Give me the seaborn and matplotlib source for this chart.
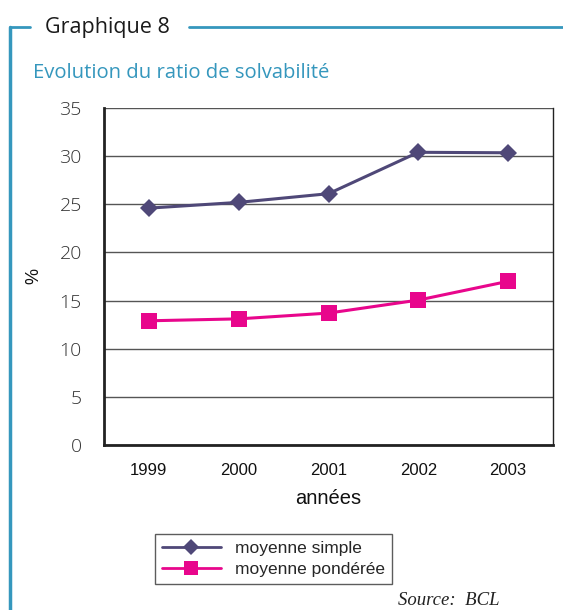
import matplotlib
matplotlib.use("Agg")
import matplotlib.pyplot as plt
import seaborn as sns
import pandas as pd
from matplotlib.lines import Line2D

years = ["1999", "2000", "2001", "2002", "2003"]
moyenne_simple = [24.6, 25.2, 26.1, 30.4, 30.35]
moyenne_ponderee = [12.9, 13.1, 13.7, 15.05, 17.0]
series_names = ["moyenne simple", "moyenne pondérée"]
y_ticks = [0, 5, 10, 15, 20, 25, 30, 35]

sns.set_style("white")
plt.rcParams['font.family'] = ['Liberation Sans', 'DejaVu Sans']

df = pd.DataFrame({
    "x": list(range(len(years))) * 2,
    "val": moyenne_simple + moyenne_ponderee,
    "serie": [series_names[0]] * len(years) + [series_names[1]] * len(years),
})

fig = plt.figure(figsize=(5.63, 6.10), dpi=100)
ax = fig.add_axes([104/563, 1-445/610, 449/563, 337/610])

colors = {series_names[0]: "#4f4878", series_names[1]: "#e8068c"}
markers = {series_names[0]: "D", series_names[1]: "s"}
sizes = {series_names[0]: 9.5, series_names[1]: 11}
for name in series_names:
    sub = df[df.serie == name]
    sns.lineplot(data=sub, x="x", y="val", ax=ax, color=colors[name],
                 marker=markers[name], markersize=sizes[name], linewidth=2.2,
                 markeredgewidth=0, legend=False)

ax.set_xlim(-0.5, 4.5)
ax.set_ylim(0, 35)
ax.set_yticks(y_ticks)
ax.set_yticklabels([str(t) for t in y_ticks], fontsize=14, color="#333333",
                   family=['Open Sans', 'DejaVu Sans'], fontweight='light')
ax.set_xticks(range(len(years)))
ax.set_xticklabels(years, fontsize=12, color="#111111")
ax.set_xticks([i - 0.5 for i in range(len(years) + 1)], minor=True)
ax.tick_params(axis='x', which='major', length=0, pad=13)
ax.tick_params(axis='x', which='minor', length=5, color="#333333", width=1, direction='out')
ax.tick_params(axis='y', which='major', length=7, color="#333333", width=1, direction='out', pad=9)
ax.yaxis.grid(True, color="#555555", linewidth=1)
ax.xaxis.grid(False)
for s in ["left", "bottom"]:
    ax.spines[s].set_color("#222222")
    ax.spines[s].set_linewidth(2)
ax.spines["right"].set_color("#222222")
ax.spines["right"].set_linewidth(1)
ax.spines["top"].set_visible(False)
ax.set_xlabel("années", fontsize=14.5, color="#111111", labelpad=8)
ax.set_ylabel("%", fontsize=13, color="#111111", labelpad=12)

handles = [Line2D([0], [0], color=colors[n], marker=markers[n], markersize=sizes[n] - 1.5,
                  linewidth=2, markeredgewidth=0) for n in series_names]
leg = fig.legend(handles, series_names, loc="upper left",
                 bbox_to_anchor=(155/563, 1-534/610), borderaxespad=0, fontsize=12.5,
                 frameon=True, fancybox=False, edgecolor="#333333",
                 borderpad=0.4, handlelength=3.4, labelspacing=0.35, handletextpad=0.8)
leg.get_frame().set_linewidth(1)

# frame decoration
blue = "#3597bd"
fig.add_artist(Line2D([10/563, 10/563], [0, 1-27/610], color=blue, linewidth=2.5,
                      transform=fig.transFigure))
fig.add_artist(Line2D([10/563, 30/563], [1-27/610, 1-27/610], color=blue, linewidth=2,
                      transform=fig.transFigure))
fig.add_artist(Line2D([189/563, 1], [1-27/610, 1-27/610], color=blue, linewidth=2,
                      transform=fig.transFigure))
fig.text(45/563, 1-27/610, "Graphique 8", fontsize=15.5, color="#1a1a1a",
         va="center", ha="left", family=['Open Sans', 'DejaVu Sans'])
fig.text(33/563, 1-73/610, "Evolution du ratio de solvabilité", fontsize=14.6,
         color=blue, va="center", ha="left", family=['Open Sans', 'DejaVu Sans'])
fig.text(398/563, 1-609/610, "Source:  BCL", fontsize=13.5, style="italic",
         color="#222222", va="bottom", ha="left", family=['Liberation Serif', 'DejaVu Serif'])

fig.savefig("out.png", dpi=100)
